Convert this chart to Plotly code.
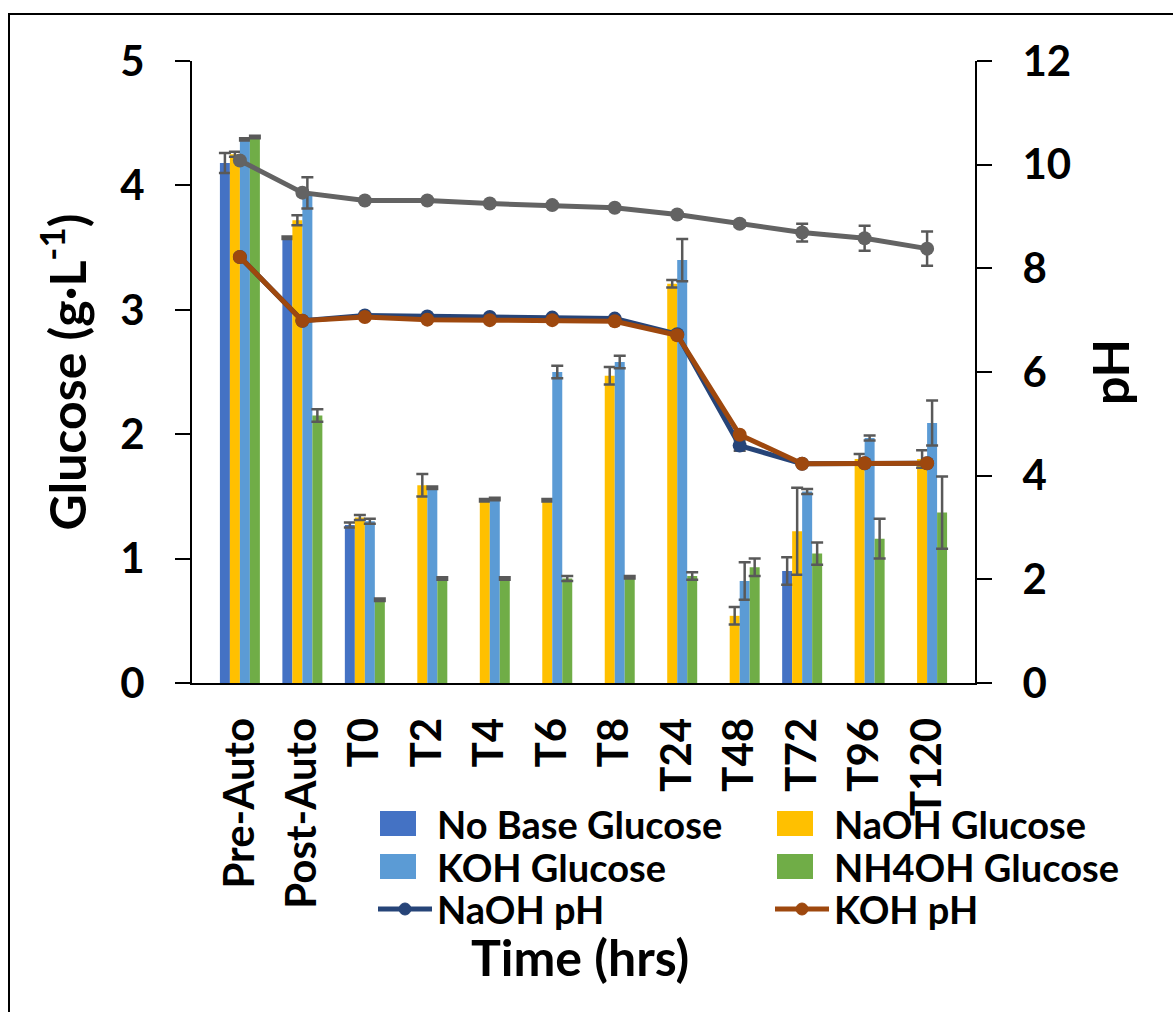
import plotly.graph_objects as go

# Sampling points
categories = ["Pre-Auto", "Post-Auto", "T0", "T2", "T4", "T6", "T8",
              "T24", "T48", "T72", "T96", "T120"]

# Glucose concentration (g/L) per condition, with error bars
no_base_glucose = [4.18, 3.58, 1.27, None, None, None, None, None, None, 0.90, None, None]
no_base_glucose_err = [0.08, 0.01, 0.02, 0, 0, 0, 0, 0, 0, 0.11, 0, 0]

naoh_glucose = [4.25, 3.72, 1.33, 1.59, 1.47, 1.47, 2.47, 3.21, 0.54, 1.22, 1.80, 1.80]
naoh_glucose_err = [0.02, 0.04, 0.02, 0.09, 0.01, 0.01, 0.07, 0.03, 0.07, 0.35, 0.04, 0.07]

koh_glucose = [4.37, 3.94, 1.30, 1.57, 1.48, 2.50, 2.58, 3.40, 0.82, 1.54, 1.97, 2.09]
koh_glucose_err = [0.01, 0.125, 0.02, 0.01, 0.01, 0.05, 0.05, 0.17, 0.15, 0.02, 0.02, 0.18]

nh4oh_glucose = [4.39, 2.15, 0.67, 0.84, 0.84, 0.84, 0.85, 0.86, 0.93, 1.04, 1.16, 1.37]
nh4oh_glucose_err = [0.01, 0.05, 0.01, 0.01, 0.01, 0.02, 0.01, 0.03, 0.07, 0.09, 0.16, 0.29]

# pH per condition
naoh_ph = [8.22, 6.99, 7.09, 7.07, 7.06, 7.05, 7.03, 6.73, 4.58, 4.23, 4.24, 4.24]
naoh_ph_err = [0, 0, 0, 0, 0, 0, 0, 0, 0.10, 0, 0, 0]

koh_ph = [8.22, 6.99, 7.06, 7.01, 7.00, 7.00, 6.98, 6.71, 4.79, 4.23, 4.24, 4.24]

nh4oh_ph = [10.08, 9.46, 9.31, 9.31, 9.25, 9.22, 9.17, 9.04, 8.86, 8.69, 8.58, 8.38]
nh4oh_ph_err = [0.04, 0.05, 0.03, 0.03, 0.03, 0.03, 0.03, 0.03, 0.06, 0.17, 0.24, 0.33]

# Page geometry (pixels)
W, H = 1173, 1012
ML, MR, MT, MB = 192, 198, 61, 329
PW, PH = W - ML - MR, H - MT - MB


def px(x):
    return (x - ML) / PW


def py(y):
    return (H - MB - y) / PH


FONT = "Lato"
ERR_COLOR = "#595959"
BLUE, YELLOW, LBLUE, GREEN = "#4472C4", "#FFC000", "#5B9BD5", "#70AD47"
NAVY, BROWN, GRAY = "#264478", "#9E480E", "#636363"

fig = go.Figure()

bar_series = [
    ("No Base Glucose", no_base_glucose, no_base_glucose_err, BLUE),
    ("NaOH Glucose", naoh_glucose, naoh_glucose_err, YELLOW),
    ("KOH Glucose", koh_glucose, koh_glucose_err, LBLUE),
    ("NH4OH Glucose", nh4oh_glucose, nh4oh_glucose_err, GREEN),
]
for name, vals, errs, color in bar_series:
    fig.add_trace(go.Bar(
        x=categories, y=vals, name=name, marker_color=color,
        marker_line_width=0,
        error_y=dict(type="data", array=errs, visible=True,
                     color=ERR_COLOR, thickness=2.5, width=6),
        yaxis="y",
    ))

fig.add_trace(go.Scatter(
    x=categories, y=naoh_ph, name="NaOH pH", mode="lines+markers",
    line=dict(color=NAVY, width=5),
    marker=dict(size=14, color=NAVY),
    error_y=dict(type="data", array=naoh_ph_err, visible=True,
                 color=ERR_COLOR, thickness=2.5, width=6),
    yaxis="y2",
))
fig.add_trace(go.Scatter(
    x=categories, y=koh_ph, name="KOH pH", mode="lines+markers",
    line=dict(color=BROWN, width=5),
    marker=dict(size=14, color=BROWN),
    yaxis="y2",
))
fig.add_trace(go.Scatter(
    x=categories, y=nh4oh_ph, name="NH4OH pH", mode="lines+markers",
    line=dict(color=GRAY, width=5),
    marker=dict(size=14, color=GRAY),
    error_y=dict(type="data", array=nh4oh_ph_err, visible=True,
                 color=ERR_COLOR, thickness=2.5, width=6),
    yaxis="y2",
))

axis_common = dict(
    showline=True, linecolor="black", linewidth=2,
    showgrid=False, zeroline=False,
    ticks="outside", ticklen=15, tickwidth=2, tickcolor="black",
    tickfont=dict(family=FONT, size=42, color="black", weight="bold"),
)

# Two-column key below the axis labels
legend_font = dict(family=FONT, size=38, color="black", weight="bold")
key_cols = [380, 777]
key_rows = [824, 867, 909]
key_entries = [
    ("No Base Glucose", "bar", BLUE),
    ("NaOH Glucose", "bar", YELLOW),
    ("KOH Glucose", "bar", LBLUE),
    ("NH4OH Glucose", "bar", GREEN),
    ("NaOH pH", "line", NAVY),
    ("KOH pH", "line", BROWN),
]
shapes = [dict(
    type="rect", xref="paper", yref="paper",
    x0=px(9), y0=py(H + 20), x1=px(W + 20), y1=py(14),
    line=dict(color="black", width=2), layer="below",
)]
annotations = [dict(
    text="Time (hrs)", xref="paper", yref="paper",
    x=px(580), y=py(957), xanchor="center", yanchor="middle",
    showarrow=False,
    font=dict(family=FONT, size=50, color="black", weight="bold"),
)]
for i, (label, kind, color) in enumerate(key_entries):
    x0 = key_cols[i % 2]
    yc = key_rows[i // 2]
    if kind == "bar":
        shapes.append(dict(
            type="rect", xref="paper", yref="paper",
            x0=px(x0), x1=px(x0 + 36), y0=py(yc + 12), y1=py(yc - 13),
            fillcolor=color, line=dict(width=0),
        ))
    else:
        shapes.append(dict(
            type="line", xref="paper", yref="paper",
            x0=px(x0 - 2), x1=px(x0 + 52), y0=py(yc), y1=py(yc),
            line=dict(color=color, width=5),
        ))
        shapes.append(dict(
            type="circle", xref="paper", yref="paper",
            x0=px(x0 + 19), x1=px(x0 + 31), y0=py(yc + 6), y1=py(yc - 6),
            fillcolor=color, line=dict(color=color, width=1),
        ))
    annotations.append(dict(
        text=label, xref="paper", yref="paper",
        x=px(x0 + 55), y=py(yc), xanchor="left", yanchor="middle",
        showarrow=False, font=legend_font,
    ))

fig.update_layout(
    width=W, height=H,
    margin=dict(l=ML, r=MR, t=MT, b=MB, autoexpand=False),
    paper_bgcolor="white", plot_bgcolor="white",
    font=dict(family=FONT, color="black", weight="bold"),
    barmode="group", bargap=0.36, bargroupgap=0,
    showlegend=False,
    xaxis=dict(
        type="category", showline=True, linecolor="black", linewidth=2,
        showgrid=False, ticks="", tickangle=-90, ticklabelstandoff=16,
        tickfont=dict(family=FONT, size=42, color="black", weight="bold"),
    ),
    yaxis=dict(
        range=[0, 5], dtick=1, ticklabelstandoff=22,
        title=dict(text="Glucose (g·L<sup>-1</sup>)", standoff=18,
                   font=dict(family=FONT, size=50, color="black", weight="bold")),
        **axis_common,
    ),
    yaxis2=dict(
        range=[0, 12], dtick=2, overlaying="y", side="right",
        ticklabelstandoff=22,
        title=dict(text="pH", standoff=24,
                   font=dict(family=FONT, size=50, color="black", weight="bold")),
        **axis_common,
    ),
    annotations=annotations,
    shapes=shapes,
)

fig.write_html("out.html")
